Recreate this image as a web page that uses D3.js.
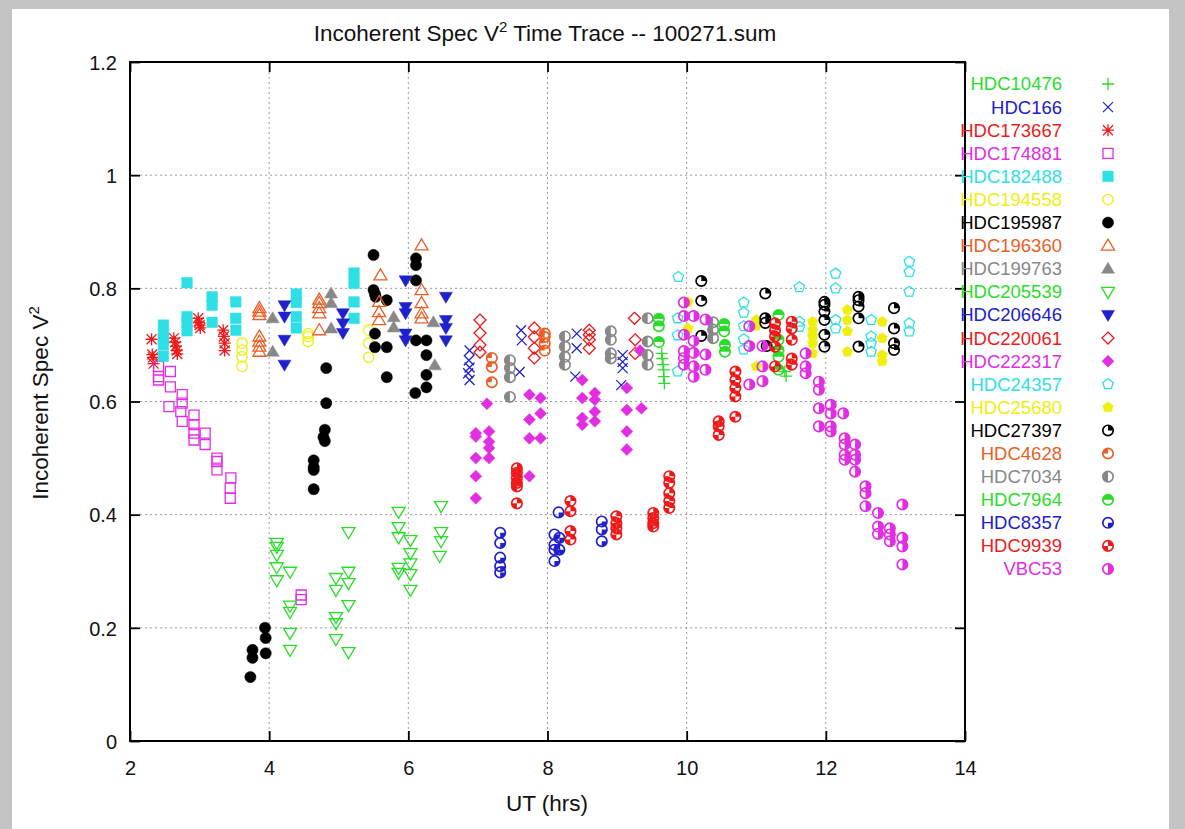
<!DOCTYPE html>
<html>
<head>
<meta charset="utf-8">
<script src="https://cdn.jsdelivr.net/npm/d3@7"></script>
<style>
  body { margin: 0; background: #c4c4c4; }
  svg { display: block; font-family: "Liberation Sans", Arial, sans-serif; }
</style>
</head>
<body>
<svg id="chart" width="1185" height="829"></svg>
<script>
// values: [UT hours, V^2]
const HDC10476 = [[9.64,0.685],[9.65,0.676],[9.66,0.665],[9.67,0.656],[9.67,0.644],[9.68,0.632],[11.41,0.653],[11.43,0.645]];
const HDC166 = [[6.88,0.69],[6.87,0.673],[6.88,0.66],[6.86,0.65],[6.88,0.638],[7.62,0.726],[7.63,0.708],[7.6,0.652],[8.42,0.72],[8.42,0.694],[8.4,0.644],[9.08,0.682],[9.08,0.67],[9.08,0.659],[9.06,0.629]];
const HDC173667 = [[2.31,0.71],[2.32,0.683],[2.33,0.678],[2.34,0.667],[2.63,0.712],[2.65,0.705],[2.66,0.698],[2.67,0.69],[2.68,0.684],[2.98,0.747],[2.99,0.74],[3.0,0.735],[3.01,0.73],[3.34,0.726],[3.35,0.715],[3.36,0.703],[3.36,0.69]];
const HDC174881 = [[2.41,0.662],[2.41,0.644],[2.41,0.638],[2.58,0.653],[2.58,0.626],[2.56,0.591],[2.75,0.612],[2.75,0.597],[2.73,0.582],[2.75,0.565],[2.92,0.576],[2.92,0.559],[2.92,0.544],[2.92,0.532],[3.08,0.544],[3.08,0.524],[3.25,0.5],[3.25,0.494],[3.25,0.479],[3.45,0.465],[3.44,0.447],[3.44,0.429],[4.46,0.258],[4.46,0.25]];
const HDC182488 = [[2.48,0.735],[2.48,0.72],[2.48,0.71],[2.48,0.7],[2.48,0.68],[2.82,0.81],[2.82,0.75],[2.82,0.74],[2.82,0.725],[3.18,0.785],[3.18,0.77],[3.18,0.74],[3.52,0.776],[3.52,0.747],[3.52,0.726],[4.39,0.79],[4.39,0.775],[4.39,0.75],[4.39,0.73],[5.22,0.827],[5.22,0.809],[5.22,0.776],[5.22,0.747]];
const HDC194558 = [[3.61,0.703],[3.61,0.691],[3.61,0.679],[3.61,0.662],[4.56,0.72],[4.56,0.715],[4.56,0.706],[5.43,0.726],[5.43,0.703],[5.43,0.678]];
const HDC195987 = [[3.73,0.113],[3.76,0.161],[3.76,0.147],[3.94,0.2],[3.95,0.182],[3.95,0.155],[4.64,0.496],[4.64,0.484],[4.64,0.479],[4.64,0.445],[4.8,0.55],[4.78,0.537],[4.8,0.53],[4.82,0.597],[4.82,0.659],[5.5,0.859],[5.5,0.797],[5.52,0.79],[5.53,0.785],[5.69,0.779],[5.52,0.72],[5.52,0.696],[5.69,0.696],[5.69,0.643],[6.11,0.853],[6.11,0.841],[6.11,0.814],[6.11,0.708],[6.26,0.708],[6.26,0.682],[6.26,0.647],[6.26,0.625],[6.1,0.615]];
const HDC196360 = [[3.86,0.765],[3.86,0.759],[3.86,0.753],[3.86,0.715],[3.86,0.706],[3.86,0.697],[3.86,0.688],[4.72,0.78],[4.72,0.774],[4.72,0.765],[4.72,0.756],[4.72,0.726],[5.6,0.823],[5.58,0.776],[5.58,0.758],[5.58,0.744],[6.19,0.876],[6.19,0.797],[6.19,0.774],[6.19,0.756],[6.19,0.747]];
const HDC199763 = [[4.05,0.747],[4.05,0.688],[4.89,0.791],[4.89,0.774],[4.89,0.729],[5.79,0.749],[5.79,0.731],[6.36,0.74],[6.38,0.664]];
const HDC205539 = [[4.11,0.35],[4.11,0.343],[4.11,0.329],[4.11,0.307],[4.11,0.284],[4.3,0.299],[4.3,0.239],[4.3,0.228],[4.3,0.191],[4.3,0.161],[4.96,0.288],[4.96,0.267],[4.96,0.219],[4.96,0.208],[4.96,0.18],[5.14,0.369],[5.14,0.299],[5.14,0.279],[5.14,0.24],[5.14,0.157],[5.86,0.405],[5.86,0.378],[5.86,0.36],[5.86,0.306],[5.86,0.297],[6.03,0.355],[6.03,0.332],[6.03,0.314],[6.03,0.295],[6.03,0.267],[6.47,0.415],[6.47,0.369],[6.47,0.353],[6.45,0.327]];
const HDC206646 = [[4.22,0.77],[4.22,0.75],[4.22,0.709],[4.22,0.665],[5.06,0.756],[5.06,0.738],[5.06,0.721],[5.96,0.814],[5.96,0.767],[5.96,0.756],[5.96,0.72],[5.96,0.708],[6.54,0.785],[6.54,0.744],[6.54,0.73],[6.54,0.708]];
const HDC220061 = [[7.03,0.744],[7.03,0.721],[7.03,0.7],[7.03,0.687],[7.81,0.73],[7.81,0.714],[7.81,0.694],[7.81,0.677],[8.6,0.726],[8.6,0.718],[8.6,0.709],[8.6,0.694],[9.25,0.747],[9.26,0.709],[9.26,0.685]];
const HDC222317 = [[7.13,0.596],[6.97,0.544],[6.97,0.538],[6.97,0.5],[6.97,0.468],[6.97,0.429],[7.16,0.547],[7.16,0.529],[7.16,0.518],[7.16,0.5],[7.74,0.612],[7.74,0.568],[7.74,0.535],[7.74,0.468],[7.9,0.606],[7.9,0.579],[7.9,0.535],[8.5,0.638],[8.5,0.606],[8.5,0.571],[8.5,0.559],[8.68,0.615],[8.68,0.603],[8.68,0.582],[8.68,0.565],[9.14,0.624],[9.14,0.585],[9.14,0.547],[9.14,0.515],[9.35,0.588],[9.33,0.69]];
const HDC24357 = [[9.88,0.82],[9.87,0.747],[9.87,0.717],[9.87,0.653],[10.82,0.775],[10.82,0.757],[10.82,0.733],[10.82,0.71],[10.82,0.692],[11.62,0.802],[11.62,0.741],[11.62,0.732],[12.14,0.826],[12.14,0.8],[12.14,0.744],[12.14,0.729],[12.65,0.744],[12.65,0.715],[12.65,0.703],[12.65,0.688],[13.2,0.847],[13.2,0.829],[13.2,0.794],[13.2,0.738],[13.2,0.724]];
const HDC25680 = [[10.02,0.776],[10.02,0.729],[11.0,0.744],[11.0,0.734],[11.0,0.662],[11.81,0.741],[11.81,0.726],[11.81,0.715],[11.81,0.703],[11.81,0.685],[12.31,0.762],[12.31,0.744],[12.31,0.724],[12.31,0.688],[12.81,0.741],[12.81,0.712],[12.81,0.682],[12.81,0.671]];
const HDC27397 = [[10.21,0.813],[10.21,0.778],[10.21,0.716],[11.13,0.791],[11.13,0.747],[11.13,0.739],[11.15,0.698],[11.98,0.776],[11.98,0.771],[11.98,0.759],[11.98,0.744],[11.98,0.718],[11.98,0.697],[12.47,0.785],[12.47,0.779],[12.47,0.768],[12.47,0.747],[12.47,0.697],[12.98,0.765],[12.98,0.729],[12.98,0.703],[12.98,0.691]];
const HDC4628 = [[7.2,0.677],[7.2,0.661],[7.2,0.634],[7.96,0.72],[7.96,0.714],[7.96,0.703],[7.96,0.69]];
const HDC7034 = [[7.46,0.673],[7.46,0.659],[7.46,0.643],[7.46,0.608],[8.25,0.715],[8.25,0.697],[8.25,0.679],[8.25,0.665],[8.91,0.724],[8.91,0.709],[8.91,0.685],[8.91,0.676],[9.44,0.747],[9.44,0.706],[9.44,0.682],[9.44,0.665],[10.38,0.74],[10.38,0.727],[10.38,0.712]];
const HDC7964 = [[9.6,0.746],[9.6,0.733],[9.6,0.705],[10.54,0.737],[10.54,0.724],[10.55,0.7],[10.55,0.688],[11.32,0.753],[11.32,0.709],[11.32,0.691],[11.32,0.679],[11.32,0.656]];
const HDC8357 = [[7.32,0.368],[7.32,0.35],[7.32,0.324],[7.32,0.309],[7.32,0.298],[8.16,0.404],[8.1,0.365],[8.1,0.347],[8.1,0.338],[8.1,0.318],[8.17,0.359],[8.17,0.338],[8.78,0.388],[8.78,0.374],[8.78,0.353]];
const HDC9939 = [[7.56,0.482],[7.56,0.474],[7.56,0.465],[7.56,0.456],[7.56,0.45],[7.56,0.42],[8.33,0.424],[8.33,0.406],[8.33,0.371],[8.33,0.356],[8.99,0.397],[8.99,0.385],[8.99,0.376],[8.99,0.365],[9.52,0.403],[9.52,0.394],[9.52,0.385],[9.52,0.379],[9.75,0.468],[9.75,0.456],[9.75,0.438],[9.75,0.424],[9.75,0.412],[10.46,0.565],[10.46,0.556],[10.46,0.541],[10.7,0.653],[10.7,0.638],[10.7,0.624],[10.7,0.609],[10.7,0.573],[11.27,0.738],[11.27,0.726],[11.27,0.715],[11.27,0.697],[11.27,0.662],[11.51,0.741],[11.51,0.729],[11.51,0.709],[11.51,0.676],[11.51,0.665]];
const VBC53 = [[9.96,0.775],[9.96,0.751],[9.96,0.718],[9.96,0.689],[9.96,0.677],[9.96,0.665],[10.1,0.751],[10.1,0.707],[10.1,0.686],[10.1,0.662],[10.1,0.644],[10.27,0.745],[10.27,0.683],[10.27,0.656],[10.9,0.733],[10.9,0.698],[10.9,0.63],[11.09,0.698],[11.09,0.662],[11.09,0.636],[11.71,0.685],[11.71,0.662],[11.71,0.65],[11.9,0.635],[11.9,0.621],[11.9,0.588],[11.9,0.556],[12.07,0.594],[12.07,0.579],[12.07,0.556],[12.07,0.547],[12.25,0.579],[12.27,0.535],[12.27,0.524],[12.27,0.506],[12.27,0.497],[12.42,0.524],[12.42,0.506],[12.42,0.497],[12.42,0.476],[12.57,0.45],[12.57,0.438],[12.57,0.415],[12.75,0.403],[12.75,0.379],[12.75,0.366],[12.92,0.376],[12.92,0.365],[12.92,0.353],[13.1,0.418],[13.1,0.359],[13.1,0.344],[13.1,0.312]];

const seriesNames = ["HDC10476","HDC166","HDC173667","HDC174881","HDC182488","HDC194558","HDC195987","HDC196360","HDC199763","HDC205539","HDC206646","HDC220061","HDC222317","HDC24357","HDC25680","HDC27397","HDC4628","HDC7034","HDC7964","HDC8357","HDC9939","VBC53"];
const seriesValues = [HDC10476,HDC166,HDC173667,HDC174881,HDC182488,HDC194558,HDC195987,HDC196360,HDC199763,HDC205539,HDC206646,HDC220061,HDC222317,HDC24357,HDC25680,HDC27397,HDC4628,HDC7034,HDC7964,HDC8357,HDC9939,VBC53];
const xTicks = [2, 4, 6, 8, 10, 12, 14];
const yTicks = [0, 0.2, 0.4, 0.6, 0.8, 1, 1.2];

// gnuplot-like colour cycle and point types
const palette = ["#2add2a", "#2020cc", "#ee1a1a", "#e22ee2", "#2ee0e6", "#eeee11", "#000000", "#ea5f26", "#888888"];
const markerTypes = ["plus","cross","star","sqOpen","sqFill","circOpen","circFill","triUpOpen","triUpFill","triDnOpen","triDnFill","diaOpen","diaFill","pentOpen","pentFill","c1","c2","c3","c4","c5","c6","c7"];

const W = 1185, H = 829;
const plotL = 130, plotR = 965, plotT = 62, plotB = 741;

const svg = d3.select("#chart");

// page backdrop
svg.append("rect").attr("width", W).attr("height", H).attr("fill", "#c4c4c4");
svg.append("rect").attr("x", 12).attr("y", 9).attr("width", 1157).attr("height", H - 9).attr("fill", "#ffffff");

const x = d3.scaleLinear().domain([2, 14]).range([plotL, plotR]);
const y = d3.scaleLinear().domain([0, 1.2]).range([plotB, plotT]);

// grid
const grid = svg.append("g").attr("stroke", "#9a9a9a").attr("stroke-width", 1).attr("stroke-dasharray", "2,3");
xTicks.slice(1, -1).forEach(t => {
  grid.append("line").attr("x1", x(t)).attr("x2", x(t)).attr("y1", plotT).attr("y2", plotB);
});
yTicks.slice(1, -1).forEach(t => {
  grid.append("line").attr("x1", plotL).attr("x2", plotR).attr("y1", y(t)).attr("y2", y(t));
});

// axes with inward ticks
const fmt = d => String(d);
const xAxis = svg.append("g").attr("transform", `translate(0,${plotB})`)
  .call(d3.axisBottom(x).tickValues(xTicks).tickFormat(fmt).tickSizeInner(-10).tickSizeOuter(0).tickPadding(34));
const xAxisTop = svg.append("g").attr("transform", `translate(0,${plotT})`)
  .call(d3.axisTop(x).tickValues(xTicks).tickFormat("").tickSizeInner(-10).tickSizeOuter(0));
const yAxis = svg.append("g").attr("transform", `translate(${plotL},0)`)
  .call(d3.axisLeft(y).tickValues(yTicks).tickFormat(fmt).tickSizeInner(-10).tickSizeOuter(0).tickPadding(13));
const yAxisRight = svg.append("g").attr("transform", `translate(${plotR},0)`)
  .call(d3.axisRight(y).tickValues(yTicks).tickFormat("").tickSizeInner(-10).tickSizeOuter(0));

[xAxis, xAxisTop, yAxis, yAxisRight].forEach(a => {
  a.select(".domain").remove();
  a.selectAll("line").attr("stroke", "#000").attr("stroke-width", 1.8);
  a.selectAll("text").attr("font-size", 20).attr("fill", "#111")
    .attr("font-family", "'Liberation Sans', Arial, sans-serif");
});
xAxis.selectAll("text").attr("dy", "0");
yAxis.selectAll("text").attr("dy", "0.36em");

svg.append("rect")
  .attr("x", plotL).attr("y", plotT)
  .attr("width", plotR - plotL).attr("height", plotB - plotT)
  .attr("fill", "none").attr("stroke", "#000").attr("stroke-width", 2);

// marker drawing
const arc = d3.arc();
function drawMarker(sel, type, color) {
  const r = 5.2;
  const tri = 6.5;
  const open = { fill: "none", stroke: color, "stroke-width": 1.3 };
  const filled = { fill: color, stroke: color, "stroke-width": 0.5 };
  const apply = (el, a) => { Object.entries(a).forEach(([k, v]) => el.attr(k, v)); return el; };
  const path = (d, a) => apply(sel.append("path").attr("d", d), a);
  const pent = d3.range(5).map(i => {
    const ang = -Math.PI / 2 + i * 2 * Math.PI / 5;
    return [5.5 * Math.cos(ang), 5.5 * Math.sin(ang)];
  });
  const pentD = "M" + pent.map(p => p.join(",")).join("L") + "Z";
  switch (type) {
    case "plus": path("M-6,0H6M0,-6V6", open); break;
    case "cross": path("M-5,-5L5,5M-5,5L5,-5", open); break;
    case "star": path("M-6,0H6M0,-6V6M-5,-5L5,5M-5,5L5,-5", open); break;
    case "sqOpen": path("M-5,-5H5V5H-5Z", open); break;
    case "sqFill": path("M-5.3,-5.3H5.3V5.3H-5.3Z", filled); break;
    case "circOpen": apply(sel.append("circle").attr("r", r), open); break;
    case "circFill": apply(sel.append("circle").attr("r", r + 0.4), filled); break;
    case "triUpOpen": path(`M0,${-tri}L${tri},${tri * 0.7}L${-tri},${tri * 0.7}Z`, open); break;
    case "triUpFill": path(`M0,${-tri}L${tri},${tri * 0.7}L${-tri},${tri * 0.7}Z`, filled); break;
    case "triDnOpen": path(`M0,${tri}L${tri},${-tri * 0.7}L${-tri},${-tri * 0.7}Z`, open); break;
    case "triDnFill": path(`M0,${tri}L${tri},${-tri * 0.7}L${-tri},${-tri * 0.7}Z`, filled); break;
    case "diaOpen": path("M0,-6L6,0L0,6L-6,0Z", open); break;
    case "diaFill": path("M0,-6L6,0L0,6L-6,0Z", filled); break;
    case "pentOpen": path(pentD, open); break;
    case "pentFill": path(pentD, filled); break;
    default: {
      // circles with filled sectors (gnuplot point types 16+)
      const sectors = {
        c1: [[0, 0.5]],
        c2: [[1.5, 2]],
        c3: [[1, 2]],
        c4: [[-0.5, 0.5]],
        c5: [[0.5, 1]],
        c6: [[0, 0.5], [1, 1.5]],
        c7: [[0, 1]]
      }[type];
      sectors.forEach(([a0, a1]) => {
        sel.append("path")
          .attr("d", arc({ innerRadius: 0, outerRadius: r, startAngle: a0 * Math.PI, endAngle: a1 * Math.PI }))
          .attr("fill", color);
      });
      apply(sel.append("circle").attr("r", r), { fill: "none", stroke: color, "stroke-width": 1.7 });
    }
  }
}

// points
const plot = svg.append("g");
seriesValues.forEach((vals, i) => {
  const color = palette[i % palette.length];
  plot.append("g").attr("class", "series")
    .selectAll("g")
    .data(vals)
    .join("g")
    .attr("transform", d => `translate(${x(d[0])},${y(d[1])})`)
    .each(function () { drawMarker(d3.select(this), markerTypes[i], color); });
});

// legend
const legend = svg.append("g");
const legendY = d3.scalePoint().domain(seriesNames).range([84, 569]);
seriesNames.forEach((name, i) => {
  const color = palette[i % palette.length];
  legend.append("text")
    .attr("x", 1062).attr("y", legendY(name))
    .attr("dy", "0.35em")
    .attr("text-anchor", "end")
    .attr("font-size", 18.5)
    .attr("fill", color)
    .text(name);
  const m = legend.append("g").attr("transform", `translate(1108,${legendY(name)})`);
  drawMarker(m, markerTypes[i], color);
});

// titles
const title = svg.append("text")
  .attr("x", 545).attr("y", 41)
  .attr("text-anchor", "middle")
  .attr("font-size", 22.5)
  .attr("fill", "#111");
title.append("tspan").text("Incoherent Spec V");
title.append("tspan").attr("font-size", 15).attr("dy", -9).text("2");
title.append("tspan").attr("dy", 9).text(" Time Trace -- 100271.sum");

svg.append("text")
  .attr("x", 547).attr("y", 811)
  .attr("text-anchor", "middle")
  .attr("font-size", 22.5)
  .attr("fill", "#111")
  .text("UT (hrs)");

const ylab = svg.append("text")
  .attr("transform", "translate(48,403) rotate(-90)")
  .attr("text-anchor", "middle")
  .attr("font-size", 22.5)
  .attr("fill", "#111");
ylab.append("tspan").text("Incoherent Spec V");
ylab.append("tspan").attr("font-size", 15).attr("dy", -9).text("2");
</script>
</body>
</html>
